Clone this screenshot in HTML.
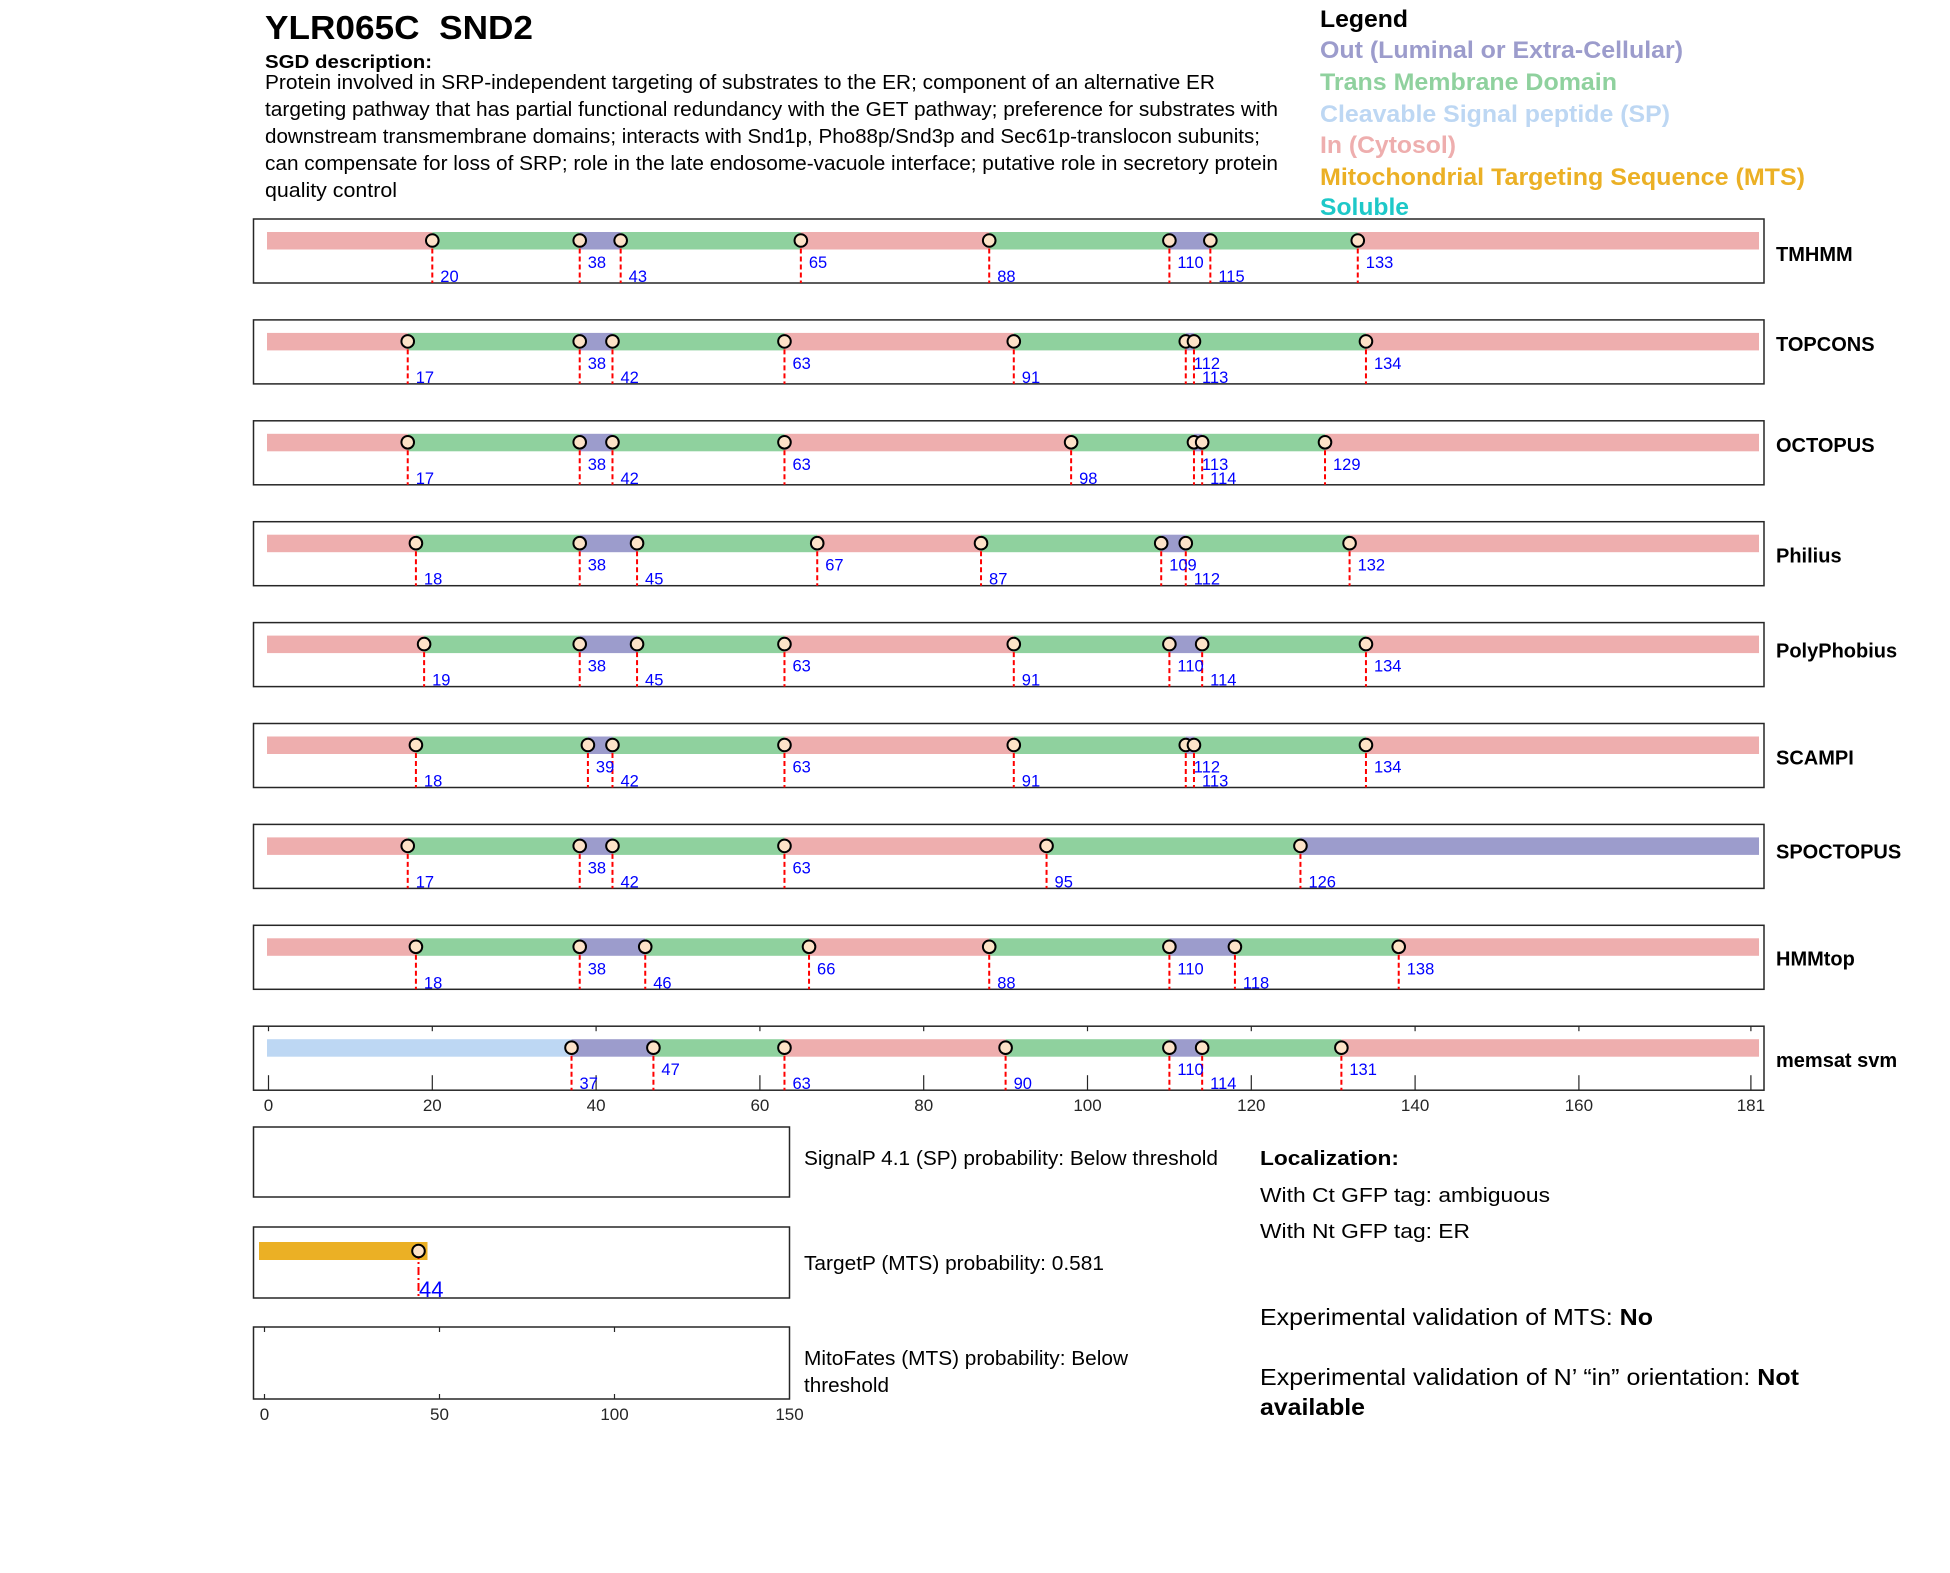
<!DOCTYPE html>
<html><head><meta charset="utf-8"><style>
html,body{margin:0;padding:0;background:#fff}
svg{display:block;font-family:"Liberation Sans",Arial,sans-serif}
</style></head><body>
<svg id="s" width="1950" height="1573" viewBox="0 0 1950 1573" xmlns="http://www.w3.org/2000/svg">
<rect width="1950" height="1573" fill="#fff"/>
<text x="265" y="39" font-size="33" font-weight="bold" textLength="268" lengthAdjust="spacingAndGlyphs">YLR065C&#160;&#160;SND2</text>
<text x="265" y="68" font-size="18" font-weight="bold" textLength="167" lengthAdjust="spacingAndGlyphs">SGD description:</text>
<g font-size="20" fill="#000">
<text x="265" y="89" textLength="950" lengthAdjust="spacingAndGlyphs">Protein involved in SRP-independent targeting of substrates to the ER; component of an alternative ER</text>
<text x="265" y="116" textLength="1013" lengthAdjust="spacingAndGlyphs">targeting pathway that has partial functional redundancy with the GET pathway; preference for substrates with</text>
<text x="265" y="143" textLength="995" lengthAdjust="spacingAndGlyphs">downstream transmembrane domains; interacts with Snd1p, Pho88p/Snd3p and Sec61p-translocon subunits;</text>
<text x="265" y="170" textLength="1013" lengthAdjust="spacingAndGlyphs">can compensate for loss of SRP; role in the late endosome-vacuole interface; putative role in secretory protein</text>
<text x="265" y="197" textLength="132" lengthAdjust="spacingAndGlyphs">quality control</text>
</g>
<g font-size="24" font-weight="bold">
<text x="1320" y="27" fill="#000" textLength="88" lengthAdjust="spacingAndGlyphs">Legend</text>
<text x="1320" y="58" fill="#9c9ccc" textLength="363" lengthAdjust="spacingAndGlyphs">Out (Luminal or Extra-Cellular)</text>
<text x="1320" y="90" fill="#8fd19e" textLength="297" lengthAdjust="spacingAndGlyphs">Trans Membrane Domain</text>
<text x="1320" y="122" fill="#bdd7f3" textLength="350" lengthAdjust="spacingAndGlyphs">Cleavable Signal peptide (SP)</text>
<text x="1320" y="153" fill="#eeaeae" textLength="136" lengthAdjust="spacingAndGlyphs">In (Cytosol)</text>
<text x="1320" y="185" fill="#ebb025" textLength="485" lengthAdjust="spacingAndGlyphs">Mitochondrial Targeting Sequence (MTS)</text>
<text x="1320" y="215" fill="#1ec8c8" textLength="89" lengthAdjust="spacingAndGlyphs">Soluble</text>
</g>
<g id="panels"></g>
<rect x="253.5" y="1127" width="536" height="70" fill="none" stroke="#262626" stroke-width="1.5"/>
<rect x="253.5" y="1227" width="536" height="71" fill="none" stroke="#262626" stroke-width="1.5"/>
<rect x="253.5" y="1327" width="536" height="72" fill="none" stroke="#262626" stroke-width="1.5"/>
<rect x="259" y="1242" width="168.5" height="18" fill="#ebb025"/>
<line x1="418.5" y1="1251" x2="418.5" y2="1298" stroke="#f00" stroke-width="2" stroke-dasharray="8,3,2,3"/>
<circle cx="418.5" cy="1251" r="6.3" fill="#fde3c8" stroke="#000" stroke-width="2"/>
<text x="419" y="1297" font-size="22" fill="#00f">44</text>
<g stroke="#262626" stroke-width="1.2">
<line x1="264.5" y1="1327" x2="264.5" y2="1332"/><line x1="439.5" y1="1327" x2="439.5" y2="1332"/><line x1="614.5" y1="1327" x2="614.5" y2="1332"/>
<line x1="264.5" y1="1399" x2="264.5" y2="1394"/><line x1="439.5" y1="1399" x2="439.5" y2="1394"/><line x1="614.5" y1="1399" x2="614.5" y2="1394"/>
</g>
<g font-size="17" fill="#262626" text-anchor="middle">
<text x="264.5" y="1420">0</text><text x="439.5" y="1420">50</text><text x="614.5" y="1420">100</text><text x="789.5" y="1420">150</text>
</g>
<g font-size="20" fill="#000">
<text x="804" y="1165" textLength="414" lengthAdjust="spacingAndGlyphs">SignalP 4.1 (SP) probability: Below threshold</text>
<text x="804" y="1270" textLength="300" lengthAdjust="spacingAndGlyphs">TargetP (MTS) probability: 0.581</text>
<text x="804" y="1365" textLength="324" lengthAdjust="spacingAndGlyphs">MitoFates (MTS) probability: Below</text>
<text x="804" y="1392" textLength="85" lengthAdjust="spacingAndGlyphs">threshold</text>
<text x="1260" y="1165" font-weight="bold" textLength="139" lengthAdjust="spacingAndGlyphs">Localization:</text>
<text x="1260" y="1202" textLength="290" lengthAdjust="spacingAndGlyphs">With Ct GFP tag: ambiguous</text>
<text x="1260" y="1238" textLength="210" lengthAdjust="spacingAndGlyphs">With Nt GFP tag: ER</text>
</g>
<g font-size="23" fill="#000">
<text x="1260" y="1325" textLength="393" lengthAdjust="spacingAndGlyphs">Experimental validation of MTS: <tspan font-weight="bold">No</tspan></text>
<text x="1260" y="1385" textLength="539" lengthAdjust="spacingAndGlyphs">Experimental validation of N’ “in” orientation: <tspan font-weight="bold">Not</tspan></text>
<text x="1260" y="1415" font-weight="bold" textLength="105" lengthAdjust="spacingAndGlyphs">available</text>
</g>
</svg>
<script>
(function(){
var NS="http://www.w3.org/2000/svg",g=document.getElementById("panels");
function el(t,a,txt){var e=document.createElementNS(NS,t);for(var k in a)e.setAttribute(k,a[k]);if(txt!==undefined)e.textContent=txt;g.appendChild(e);return e;}
var I="#eeaeae",T="#8fd19e",O="#9c9ccc",S="#bdd7f3";
function X(r){return 268.5+8.19*r;}
var P=[
["TMHMM",[20,38,43,65,88,110,115,133],[I,T,O,T,I,T,O,T,I],"lulululu",1],
["TOPCONS",[17,38,42,63,91,112,113,134],[I,T,O,T,I,T,O,T,I],"lulululu",-10],
["OCTOPUS",[17,38,42,63,98,113,114,129],[I,T,O,T,I,T,O,T,I],"lulululu",-10],
["Philius",[18,38,45,67,87,109,112,132],[I,T,O,T,I,T,O,T,I],"lulululu",0],
["PolyPhobius",[19,38,45,63,91,110,114,134],[I,T,O,T,I,T,O,T,I],"lulululu",-6],
["SCAMPI",[18,39,42,63,91,112,113,134],[I,T,O,T,I,T,O,T,I],"lulululu",0],
["SPOCTOPUS",[17,38,42,63,95,126],[I,T,O,T,I,T,O],"lulull",-7],
["HMMtop",[18,38,46,66,88,110,118,138],[I,T,O,T,I,T,O,T,I],"lulululu",-1],
["memsat svm",[37,47,63,90,110,114,131],[S,O,T,I,T,O,T,I],"lullulu",0]
];
for(var i=0;i<P.length;i++){
 var p=P[i],top=219+i*100.9,bot=top+64,cy=top+21.5;
 el("rect",{x:253.5,y:top,width:1510.5,height:64,fill:"#fff",stroke:"#262626","stroke-width":1.5});
 var xs=[267].concat(p[1].map(X)).concat([1759]);
 for(var j=0;j<p[2].length;j++) el("rect",{x:xs[j],y:top+13,width:xs[j+1]-xs[j],height:17.5,fill:p[2][j]});
 if(i==8){
  var tk=[0,20,40,60,80,100,120,140,160,181];
  tk.forEach(function(t){var x=X(t);
   el("line",{x1:x,y1:top,x2:x,y2:top+5,stroke:"#262626","stroke-width":1.2});
   el("line",{x1:x,y1:bot,x2:x,y2:bot-15,stroke:"#262626","stroke-width":1.2});
   el("text",{x:x,y:1111,"font-size":17,fill:"#262626","text-anchor":"middle"},String(t));});
 }
 for(var j=0;j<p[1].length;j++){var x=X(p[1][j]);
  el("line",{x1:x,y1:cy,x2:x,y2:bot,stroke:"#f00","stroke-width":2,"stroke-dasharray":"5,3"});}
 for(var j=0;j<p[1].length;j++){var x=X(p[1][j]);
  el("circle",{cx:x,cy:cy,r:6.3,fill:"#fde3c8",stroke:"#000","stroke-width":2});
  el("text",{x:x+8,y:top+(p[3][j]=="u"?49:63),"font-size":16.5,fill:"#00f"},String(p[1][j]));}
 el("text",{x:1776,y:top+41+p[4],"font-size":20,"font-weight":"bold",fill:"#000"},p[0]);
}
})();
</script>
</body></html>
